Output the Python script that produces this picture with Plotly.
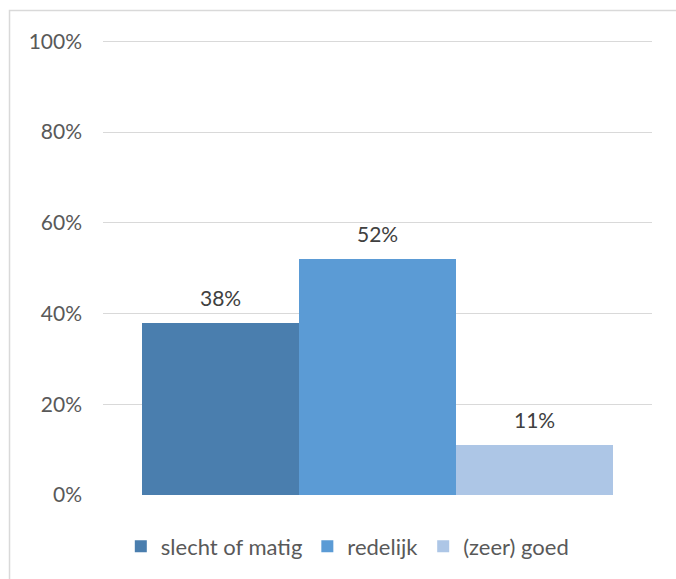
import plotly.graph_objects as go

# Survey answer distribution
categories = ["slecht of matig", "redelijk", "(zeer) goed"]
values = [38, 52, 11]
colors = ["#4A7EAE", "#5B9BD5", "#ADC6E6"]
y_ticks = [0, 20, 40, 60, 80, 100]
y_tick_labels = [f"{v}%" for v in y_ticks]

FONT = "Lato, 'Open Sans', sans-serif"

fig = go.Figure()
for name, val, col in zip(categories, values, colors):
    fig.add_trace(go.Bar(
        x=[name], y=[val], name=name,
        marker=dict(color=col, line=dict(width=0)),
        hoverinfo="skip",
    ))

# value labels above each bar
for name, val in zip(categories, values):
    fig.add_annotation(
        x=name, y=val, xref="x", yref="y",
        text=f"{val}%", showarrow=False,
        yanchor="bottom", yshift=11,
        font=dict(family=FONT, size=21, color="#404040"),
    )

# thin frame around the chart area
fig.add_shape(
    type="rect", xref="paper", yref="paper",
    x0=-0.1703, x1=1.06, y0=-0.21, y1=1.0648,
    line=dict(color="#D9D9D9", width=1.5), fillcolor="rgba(0,0,0,0)",
    layer="below",
)

fig.update_layout(
    width=676, height=579,
    margin=dict(l=103, r=24, t=39.5, b=82, pad=0),
    paper_bgcolor="white", plot_bgcolor="white",
    barmode="overlay", bargap=0,
    showlegend=True,
    legend=dict(
        orientation="h", x=0.445, xanchor="center", y=-0.113, yanchor="middle",
        font=dict(family=FONT, size=22, color="#595959"),
        traceorder="normal", itemclick=False, itemdoubleclick=False,
        itemwidth=30,
    ),
    font=dict(family=FONT, color="#595959"),
    xaxis=dict(
        type="category", range=[-0.75, 2.75],
        showticklabels=False, showgrid=False, zeroline=False,
        showline=False, ticks="", fixedrange=True,
    ),
    yaxis=dict(
        range=[0, 100.3], tickvals=y_ticks, ticktext=y_tick_labels,
        showgrid=True, gridcolor="#D9D9D9", gridwidth=1,
        zeroline=False, showline=False, ticks="",
        tickfont=dict(family=FONT, size=21, color="#595959"),
        ticklabelstandoff=20, fixedrange=True,
    ),
)

fig.write_html("out.html", config={"displayModeBar": False})
